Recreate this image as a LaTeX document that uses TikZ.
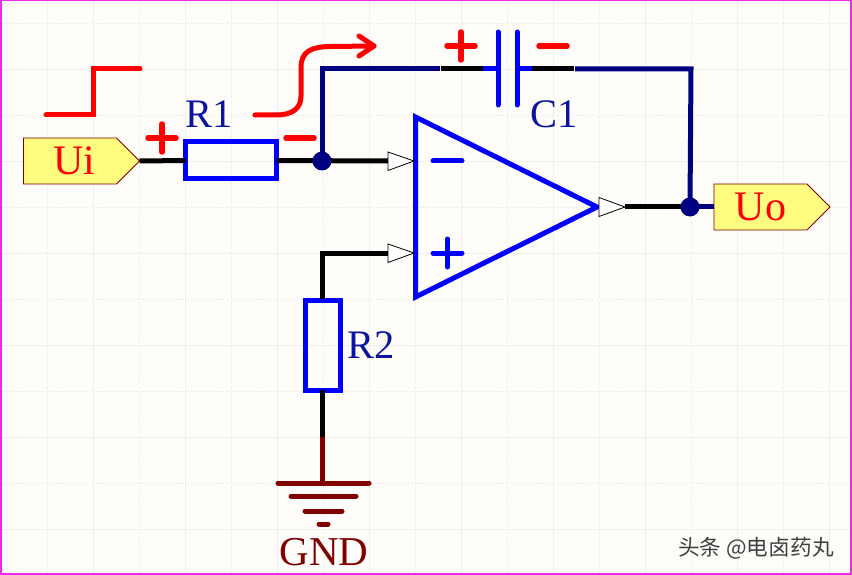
\documentclass[tikz,border=0pt]{standalone}
\usepackage{fontspec}
\setmainfont{Liberation Serif}
\newfontfamily\cjkfont{Noto Sans CJK SC}
\usetikzlibrary{shapes.symbols}
\definecolor{bgc}{HTML}{FFFDF9}
\definecolor{gridc}{HTML}{EFEEEA}
\definecolor{navyw}{HTML}{000080}
\definecolor{bluec}{HTML}{0000FF}
\definecolor{redc}{HTML}{FF0000}
\definecolor{gndc}{HTML}{800000}
\definecolor{portc}{HTML}{FFFC80}
\definecolor{labc}{HTML}{0A14A0}
\definecolor{framec}{HTML}{E82CE8}
\tikzset{
  x=1pt,y=-1pt,
  wire/.style={line width=5pt,black},
  navywire/.style={line width=5pt,navyw,line join=miter},
  bluewire/.style={line width=5pt,bluec},
  gndwire/.style={line width=5pt,gndc,line cap=round},
  polmark/.style={line width=5.5pt,redc,line cap=round},
  sign/.style={line width=5pt,bluec,line cap=round},
  redline/.style={line width=5pt,redc,line cap=round,line join=round},
  resbox/.style={draw=bluec,line width=5pt,fill=none,inner sep=0pt,outer sep=0pt},
  port/.style={signal,signal to=east,signal pointer angle=90,draw=gndc,line width=0.8pt,fill=portc,
    text=redc,font=\fontsize{42}{42}\selectfont,inner sep=0pt,outer sep=0pt,
    minimum height=46pt,minimum width=115pt,text width=93pt,align=center},
  lab/.style={text=labc,font=\fontsize{40.5}{40.5}\selectfont,anchor=base west,inner sep=0pt},
  pin/.style={draw=black,line width=0.8pt,fill=white,line join=miter},
  dot/.style={circle,fill=navyw,minimum size=19pt,inner sep=0pt},
  gmaj/.style={gridc,line width=0.8pt},
  gmin/.style={gridc,line width=0.7pt,dash pattern=on 3pt off 2pt},
}
\begin{document}
\begin{tikzpicture}
\useasboundingbox (0,0) rectangle (852,575);
\fill[bgc] (0,0) rectangle (852,575);
% grid
\foreach \g in {93,185,277,369,461,553,645,737,829} \draw[gmaj] (\g,1)--(\g,574);
\foreach \g in {47,139,231,323,415,507,599,691,783} \draw[gmin] (\g,1)--(\g,574);
\foreach \g in {69,161,253,345,437,529} \draw[gmaj] (1,\g)--(851,\g);
\foreach \g in {23,115,207,299,391,483} \draw[gmin] (1,\g)--(851,\g);
\draw[framec,line width=1.5pt] (0.75,0.75) rectangle (851,574.2);
% anchors
\coordinate (nj) at (322,161);
\coordinate (oj) at (690,207);
\coordinate (tl) at (322,69);
\coordinate (tr) at (691,69);
\coordinate (na) at (441,69);
\coordinate (nb) at (483,69);
\coordinate (pa) at (498,69);
\coordinate (pb) at (517,69);
\coordinate (nc) at (532,69);
\coordinate (nd) at (574,69);
\coordinate (inm) at (388,161);
\coordinate (inp) at (388,253);
\coordinate (bend) at (322,253);
\coordinate (outp) at (625,207);
\coordinate (gt) at (322,437);
\coordinate (gb) at (322,483);
% nodes
\node[port] (Ui) at (70,161) {\hspace*{8pt}Ui};
\node[port] (Uo) at (760.5,207) {Uo};
\node[resbox,minimum width=91pt,minimum height=37pt] (R1) at (231,160.5) {};
\node[resbox,minimum width=35pt,minimum height=90pt] (R2) at (323,345) {};
\node[lab] (R1t) at (185,128) {R1};
\node[lab] (R2t) at (347,358) {R2};
\node[lab] (C1t) at (530,128) {C1};
\node[text=gndc,font=\fontsize{41}{41}\selectfont,anchor=base,inner sep=0pt] (GNDt) at (324,565) {GND};
\node[anchor=base west,inner sep=0pt,text=white,font=\cjkfont\fontsize{21.7}{21.7}\selectfont] (wm2) at (678.8,555.8) {头条 @电卤药丸};
\node[anchor=base west,inner sep=0pt,text=black!75,font=\cjkfont\fontsize{21.7}{21.7}\selectfont] (wm) at (678,555) {头条 @电卤药丸};
% wires
\draw[wire] (Ui.east) -- (R1.west);
\draw[wire] (R1.east) -- (inm);
\draw[wire] (inp) -- (bend) -- ([yshift=1pt]R2.north -| bend);
\draw[wire] (R2.south -| gt) -- (gt);
\draw[wire] (outp) -- (oj);
\draw[wire] (na) -- (nb);
\draw[wire] (nc) -- (nd);
\draw[navywire] (nj) -- (tl) -- (440,69);
\draw[navywire] (575,69) -- (tr) -- (oj);
\draw[navywire] (oj) -- (Uo.west);
\draw[bluewire] (nb) -- (pa);
\draw[bluewire] (pb) -- (nc);
\draw[sign] (498,32) -- (498,105);
\draw[sign] (517,32) -- (517,105);
\node[dot] (J1) at (nj) {};
\node[dot] (J2) at (oj) {};
% op amp
\draw[bluec,line width=5pt,line join=miter] (415.5,117) -- (415.5,297) -- (597,207) -- cycle;
\draw[pin] (388,152) -- (414,161) -- (388,170.5) -- cycle;
\draw[pin] (388,244) -- (414,253) -- (388,262.5) -- cycle;
\draw[pin] (599,197.5) -- (625,207) -- (599,216.5) -- cycle;
\draw[sign] (433,161) -- (462,161);
\draw[sign] (433,253) -- (462,253);
\draw[sign] (447.5,239) -- (447.5,267);
% ground
\draw[gndwire,line cap=butt] (gt) -- (gb);
\draw[gndwire] (278,483) -- (369,483);
\draw[gndwire] (291,496) -- (356,496);
\draw[gndwire] (305,511) -- (342,511);
\draw[gndwire] (319,524) -- (328,524);
% red marks
\draw[polmark] (148,138) -- (176,138);
\draw[polmark] (162,124) -- (162,152);
\draw[polmark] (286,138) -- (314,138);
\draw[polmark] (447,46) -- (475,46);
\draw[polmark] (461,32) -- (461,60);
\draw[polmark] (539,46) -- (567,46);
\draw[redline,line join=miter,line cap=round] (46,115) -- (93,115) -- (93,69) -- (140,69);
\draw[redline] (255,115) -- (276,115) .. controls (293,115) and (301,108) .. (301,96) -- (301,68) .. controls (301,52) and (310,47) .. (330,46.5) -- (374,46);
\draw[redline] (359,36) -- (374,46) -- (359,56);
\end{tikzpicture}
\end{document}
